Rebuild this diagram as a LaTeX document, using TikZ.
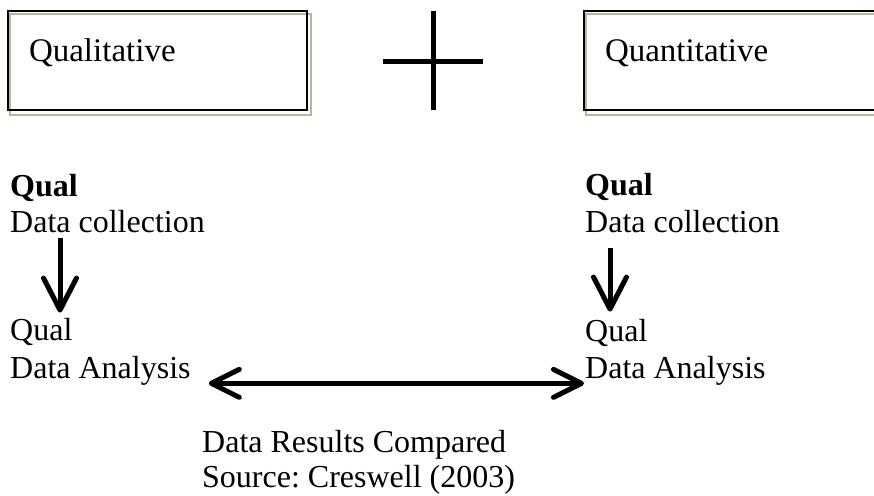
\documentclass[tikz,border=0pt]{standalone}
\usepackage{fontspec}
\setmainfont{Liberation Serif}
\usepackage{tikz}
\usetikzlibrary{positioning,arrows.meta,backgrounds}
\definecolor{boxgreen}{RGB}{176,186,158}
\frenchspacing

\begin{document}
\begin{tikzpicture}[x=1pt,y=-1pt,
  every node/.style={font=\fontsize{32}{37}\selectfont},
  box/.style={rectangle,draw=black,line width=2pt,align=left,inner xsep=21pt,minimum height=99pt,text height=23pt,text depth=20pt,font=\fontsize{33}{37}\selectfont},
  lbl/.style={anchor=base west,inner sep=0pt},
  arr/.style={-{Straight Barb[length=32pt,width=33pt,round]},line width=5pt},
  darr/.style={{Straight Barb[length=28pt,width=28pt,round]}-{Straight Barb[length=28pt,width=28pt,round]},line width=5pt}
]
\useasboundingbox (0,0) rectangle (874,495);
\clip (0,0) rectangle (874,495);
\node[box,text width=257pt,minimum width=299pt] (qualbox) at (157.5,60.5) {Qualitative};
\node[box,text width=258pt,minimum width=300pt] (quanbox) at (734,60.5) {Quantitative};
\begin{scope}[on background layer]
\draw[boxgreen,line width=2pt] ([shift={(3pt,-4pt)}]qualbox.north west) rectangle ([shift={(3pt,-4pt)}]qualbox.south east);
\draw[boxgreen,line width=2pt] ([shift={(3pt,-4pt)}]quanbox.north west) rectangle ([shift={(3pt,-4pt)}]quanbox.south east);
\end{scope}
\draw[line width=5pt] (433,11) -- (433,110);
\draw[line width=5pt] (383,61) -- (483,61);
\node[lbl] (qualA) at (10,196) {\textbf{Qual}};
\node[lbl] (collA) at (10,232) {Data collection};
\node[lbl] (qualB) at (10,340) {Qual};
\node[lbl] (anaB) at (10,378) {Data Analysis};
\node[lbl] (qualC) at (585,195) {\textbf{Qual}};
\node[lbl] (collC) at (585,232) {Data collection};
\node[lbl] (qualD) at (585,341) {Qual};
\node[lbl] (anaD) at (585,378) {Data Analysis};
\node[lbl] (compared) at (202,452) {Data Results Compared};
\node[lbl] (source) at (202,487) {Source: Creswell (2003)};
\draw[arr] ([xshift=50pt,yshift=-5pt]collA.south west) -- ([xshift=50pt,yshift=5pt]qualB.north west);
\draw[arr] ([xshift=25pt,yshift=-15pt]collC.south west) -- ([xshift=25pt,yshift=7pt]qualD.north west);
\draw[darr] ([xshift=18pt,yshift=-13pt]anaB.east) -- ([xshift=-1pt,yshift=-13pt]anaD.west);
\end{tikzpicture}
\end{document}
